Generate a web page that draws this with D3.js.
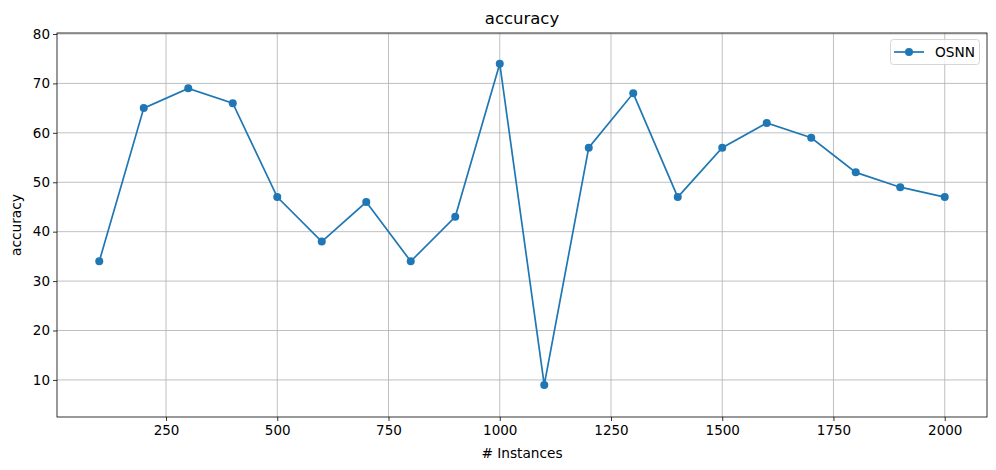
<!DOCTYPE html>
<html>
<head>
<meta charset="utf-8">
<script src="https://cdn.jsdelivr.net/npm/d3@7"></script>
<style>
body{margin:0;background:#fff;}
text{font-family:"DejaVu Sans",sans-serif;fill:#000;}
</style>
</head>
<body>
<div id="chart"></div>
<script>
let instances=[100,200,300,400,500,600,700,800,900,1000,1100,1200,1300,1400,1500,1600,1700,1800,1900,2000];
let accuracy=[34,65,69,66,47,38,46,34,43,74,9,57,68,47,57,62,59,52,49,47];
let xTicks=[250,500,750,1000,1250,1500,1750,2000];
let yTicks=[10,20,30,40,50,60,70,80];
let seriesName="OSNN";

let width=996, height=470;
let padL=57, padR=987, padT=33, padB=417;
let color="#1f77b4";

let svg=d3.select("#chart").append("svg").attr("width",width).attr("height",height);

let x=d3.scaleLinear().domain([5,2095]).range([padL,padR]);
let y=d3.scaleLinear().domain([2.5,80.2]).range([padB,padT]);

// grid
svg.append("g").selectAll("line").data(xTicks).enter().append("line")
  .attr("x1",d=>x(d)).attr("x2",d=>x(d)).attr("y1",padT).attr("y2",padB)
  .attr("stroke","#b0b0b0").attr("stroke-width",0.8);
svg.append("g").selectAll("line").data(yTicks).enter().append("line")
  .attr("y1",d=>y(d)).attr("y2",d=>y(d)).attr("x1",padL).attr("x2",padR)
  .attr("stroke","#b0b0b0").attr("stroke-width",0.8);

// axes
let xAxis=d3.axisBottom(x).tickValues(xTicks).tickFormat(d3.format("d")).tickSize(4).tickPadding(4);
let yAxis=d3.axisLeft(y).tickValues(yTicks).tickFormat(d3.format("d")).tickSize(4).tickPadding(3);
let gx=svg.append("g").attr("transform","translate(0,"+padB+")").call(xAxis);
let gy=svg.append("g").attr("transform","translate("+padL+",0)").call(yAxis);
[gx,gy].forEach(g=>{
  g.select(".domain").remove();
  g.selectAll("text").style("font-size","13.5px").style("font-family","DejaVu Sans");
  g.selectAll("line").attr("stroke","#000").attr("stroke-width",0.8);
});

// frame
svg.append("rect").attr("x",padL).attr("y",padT).attr("width",padR-padL).attr("height",padB-padT)
  .attr("fill","none").attr("stroke","#000").attr("stroke-width",0.8);

// series
let pts=instances.map((d,i)=>[d,accuracy[i]]);
svg.append("path").datum(pts)
  .attr("d",d3.line().x(d=>x(d[0])).y(d=>y(d[1])))
  .attr("fill","none").attr("stroke",color).attr("stroke-width",1.7);
svg.append("g").selectAll("circle").data(pts).enter().append("circle")
  .attr("cx",d=>x(d[0])).attr("cy",d=>y(d[1])).attr("r",4).attr("fill",color);

// labels
svg.append("text").text("accuracy").attr("x",(padL+padR)/2).attr("y",24)
  .attr("text-anchor","middle").style("font-size","16.5px");
svg.append("text").text("# Instances").attr("x",(padL+padR)/2).attr("y",458)
  .attr("text-anchor","middle").style("font-size","13.7px");
svg.append("text").text("accuracy").attr("transform","translate(21,"+((padT+padB)/2)+") rotate(-90)")
  .attr("text-anchor","middle").style("font-size","13.7px");

// legend
let lg=svg.append("g");
lg.append("rect").attr("x",890.5).attr("y",39.5).attr("width",89).attr("height",25).attr("rx",3)
  .attr("fill","#fff").attr("fill-opacity",0.8).attr("stroke","#ccc").attr("stroke-width",0.8);
lg.append("line").attr("x1",894).attr("x2",924).attr("y1",52).attr("y2",52).attr("stroke",color).attr("stroke-width",1.7);
lg.append("circle").attr("cx",909).attr("cy",52).attr("r",4).attr("fill",color);
lg.append("text").text(seriesName).attr("x",935).attr("y",57).style("font-size","13.7px");
</script>
</body>
</html>
